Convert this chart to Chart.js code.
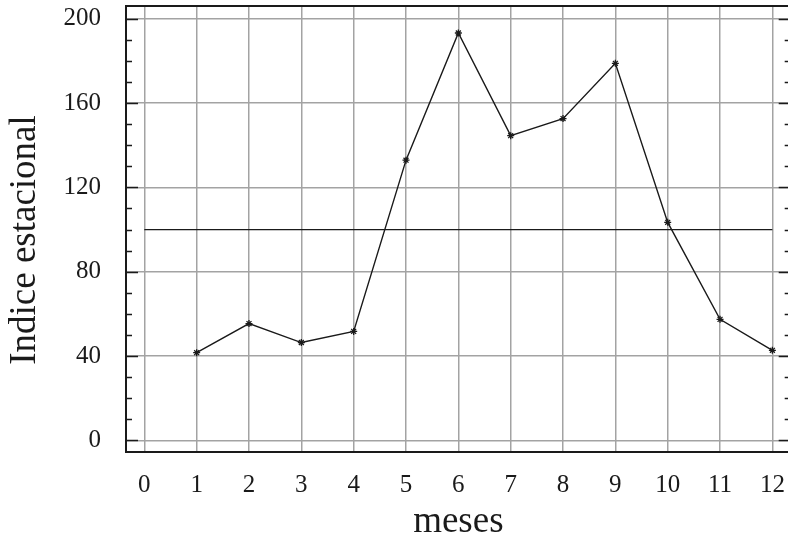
<!DOCTYPE html>
<html>
<head>
<meta charset="utf-8">
<script src="https://cdn.jsdelivr.net/npm/chart.js@4/dist/chart.umd.min.js"></script>
<style>
  html, body { margin: 0; padding: 0; background: #fff; overflow: hidden; }
  #wrap { width: 796px; height: 539px; }
</style>
</head>
<body>
<div id="wrap"><canvas id="c"></canvas></div>
<script>
// seasonal index per month
const meses = [1, 2, 3, 4, 5, 6, 7, 8, 9, 10, 11, 12];
const indice = [41.6, 55.4, 46.4, 51.7, 132.9, 193.2, 144.5, 152.6, 178.8, 103.4, 57.4, 42.7];
const referencia = 100;
const xTicks = [0, 1, 2, 3, 4, 5, 6, 7, 8, 9, 10, 11, 12];
const yTicks = [0, 40, 80, 120, 160, 200];
const yTitle = "Indice estacional";

const SERIF = "'Liberation Serif', 'DejaVu Serif', serif";
const GRID = "#a3a3a3";
const INK = "#1a1a1a";

// frame, inward ticks on left/right, and the y title
const framePlugin = {
  id: "frame",
  afterDatasetsDraw(chart) {
    const { ctx, chartArea: a, scales } = chart;
    const y = scales.y;
    ctx.save();
    ctx.strokeStyle = INK;
    ctx.lineWidth = 1.5;
    for (let v = 0; v <= 200; v += 10) {
      const py = Math.round(y.getPixelForValue(v)) + 0.5;
      const len = v % 40 === 0 ? 12 : 6;
      ctx.beginPath();
      ctx.moveTo(a.left, py); ctx.lineTo(a.left + len, py);
      ctx.moveTo(a.right, py); ctx.lineTo(a.right - len, py);
      ctx.stroke();
    }
    ctx.lineWidth = 2;
    ctx.strokeRect(a.left, a.top, a.right - a.left, a.bottom - a.top);

    // y title, a bit below the middle like the original
    ctx.translate(25, 240);
    ctx.rotate(-Math.PI / 2);
    ctx.fillStyle = INK;
    ctx.font = "37px " + SERIF;
    ctx.textAlign = "center";
    ctx.textBaseline = "middle";
    ctx.fillText(yTitle, 0, 0);
    ctx.restore();
  }
};

new Chart(document.getElementById("c"), {
  type: "line",
  data: {
    datasets: [
      {
        data: meses.map((m, i) => ({ x: m, y: indice[i] })),
        borderColor: INK,
        borderWidth: 1.4,
        pointStyle: "star",
        pointRadius: 3.5,
        pointBorderColor: INK,
        pointBorderWidth: 1.3,
        tension: 0
      },
      {
        data: [{ x: 0, y: referencia }, { x: 12, y: referencia }],
        borderColor: INK,
        borderWidth: 1.2,
        pointRadius: 0
      }
    ]
  },
  options: {
    animation: false,
    responsive: true,
    maintainAspectRatio: false,
    layout: { padding: { left: 0, top: 6, right: 1, bottom: 0 } },
    plugins: { legend: { display: false }, tooltip: { enabled: false } },
    scales: {
      x: {
        type: "linear",
        min: -0.35,
        max: 12.35,
        afterBuildTicks: s => { s.ticks = xTicks.map(v => ({ value: v })); },
        afterFit: s => { s.height = 87; s.paddingLeft = 0; s.paddingRight = 0; },
        grid: { color: GRID, lineWidth: 1.5, drawTicks: false },
        border: { display: false },
        ticks: { color: INK, padding: 18, font: { family: SERIF, size: 25 }, maxRotation: 0 },
        title: { display: true, text: "meses", color: INK, padding: { top: 4, bottom: -5 }, font: { family: SERIF, size: 37 } }
      },
      y: {
        type: "linear",
        min: -5.5,
        max: 206,
        afterBuildTicks: s => { s.ticks = yTicks.map(v => ({ value: v })); },
        afterFit: s => { s.width = 126; s.paddingTop = 0; s.paddingBottom = 0; },
        grid: { color: GRID, lineWidth: 1.5, drawTicks: false },
        border: { display: false },
        ticks: { color: INK, padding: 25, font: { family: SERIF, size: 25 } }
      }
    }
  },
  plugins: [framePlugin]
});
</script>
</body>
</html>
